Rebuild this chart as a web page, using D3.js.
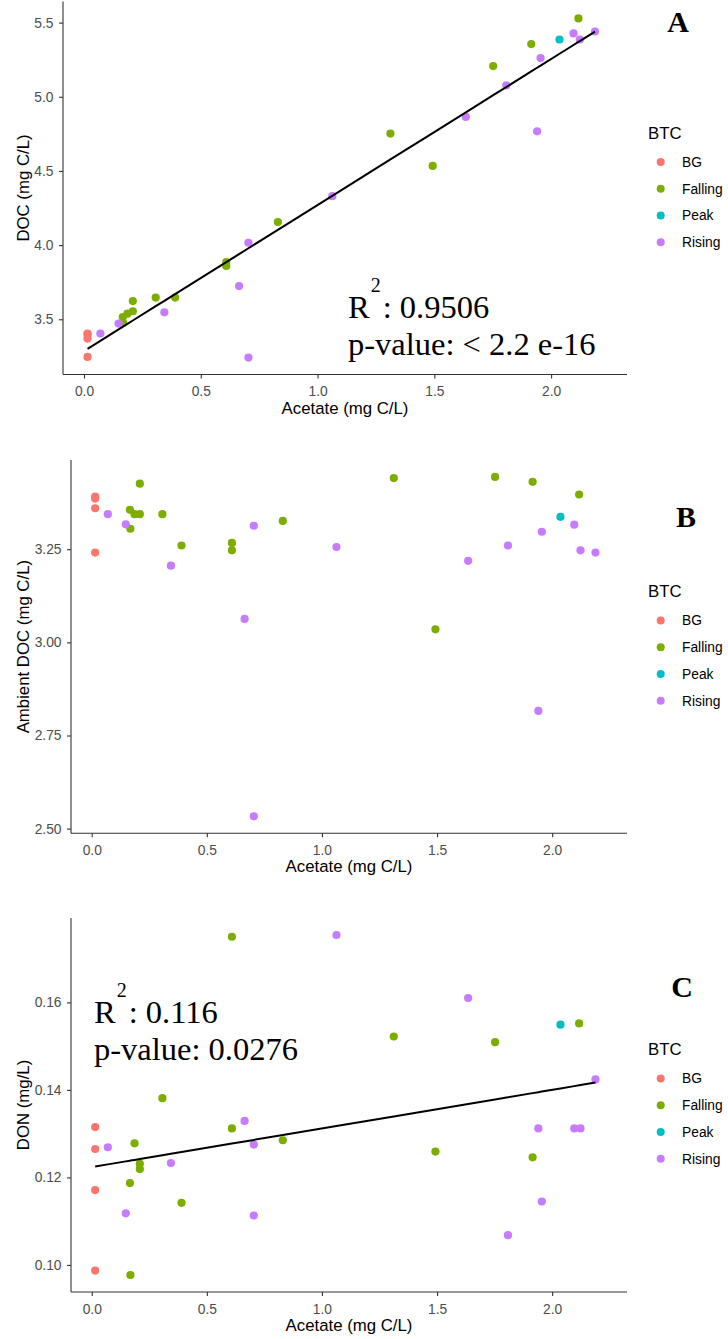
<!DOCTYPE html>
<html>
<head>
<meta charset="utf-8">
<script src="https://cdn.jsdelivr.net/npm/d3@7"></script>
<style>
  body { margin: 0; background: #fff; }
  .tick-label { font-family: "Liberation Sans", Arial, sans-serif; font-size: 13.8px; fill: #4d4d4d; }
  .axis-title { font-family: "Liberation Sans", Arial, sans-serif; font-size: 16.8px; fill: #000; }
  .legend-title { font-family: "Liberation Sans", Arial, sans-serif; font-size: 16.8px; fill: #000; }
  .legend-label { font-family: "Liberation Sans", Arial, sans-serif; font-size: 13.8px; fill: #000; }
  .panel-letter { font-family: "Liberation Serif", "Times New Roman", serif; font-size: 30px; font-weight: bold; fill: #000; }
  .stat-text { font-family: "Liberation Serif", "Times New Roman", serif; font-size: 32.5px; fill: #000; }
</style>
</head>
<body>
<div class="wrapper"></div>
<script>
// BTC categories and ggplot default hues
const btcGroups = ["BG", "Falling", "Peak", "Rising"]
const btcColors = ["#F8766D", "#7CAE00", "#00BFC4", "#C77CFF"]

// one entry per sample, same order in every array
const sampleBtc = [
    "BG", "BG", "BG", "BG",
    "Falling", "Falling", "Falling", "Falling", "Falling", "Falling", "Falling", "Falling",
    "Falling", "Falling", "Falling", "Falling", "Falling", "Falling", "Falling",
    "Peak",
    "Rising", "Rising", "Rising", "Rising", "Rising", "Rising", "Rising",
    "Rising", "Rising", "Rising", "Rising", "Rising", "Rising", "Rising"
]
const acetate = [
    0.015, 0.015, 0.015, 0.015,
    0.166, 0.168, 0.186, 0.209, 0.209, 0.307, 0.390, 0.609,
    0.609, 0.830, 1.312, 1.493, 1.752, 1.915, 2.117,
    2.036,
    0.070, 0.148, 0.344, 0.664, 0.704, 0.704, 1.063,
    1.635, 1.808, 1.940, 1.955, 2.096, 2.123, 2.188
]
const docValues = [
    3.404, 3.398, 3.370, 3.246,
    3.515, 3.475, 3.538, 3.623, 3.554, 3.646, 3.646, 3.886,
    3.859, 4.155, 4.752, 4.534, 5.207, 5.355, 5.528,
    5.386,
    3.404, 3.471, 3.547, 3.724, 4.016, 3.242, 4.330,
    4.864, 5.077, 4.767, 5.261, 5.427, 5.386, 5.440
]
const ambientDocValues = [
    3.391, 3.386, 3.360, 3.241,
    3.356, 3.305, 3.344, 3.426, 3.344, 3.344, 3.260, 3.267,
    3.247, 3.326, 3.441, 3.035, 3.444, 3.431, 3.397,
    3.337,
    3.344, 3.317, 3.206, 3.063, 3.313, 2.533, 3.256,
    3.219, 3.260, 2.816, 3.297, 3.316, 3.247, 3.241
]
const donValues = [
    0.1315, 0.1265, 0.1171, 0.0987,
    0.1187, 0.0977, 0.1278, 0.1231, 0.1219, 0.1381, 0.1142, 0.1312,
    0.1750, 0.1285, 0.1522, 0.1259, 0.1509, 0.1246, 0.1552,
    0.1549,
    0.1269, 0.1118, 0.1233, 0.1329, 0.1275, 0.1113, 0.1754,
    0.1610, 0.1068, 0.1312, 0.1145, 0.1312, 0.1312, 0.1424
]

const xDomain = [-0.09, 2.325]
const xTicks = [0, 0.5, 1, 1.5, 2]
const docTicks = [3.5, 4, 4.5, 5, 5.5]
const ambientTicks = [2.5, 2.75, 3, 3.25]
const donTicks = [0.10, 0.12, 0.14, 0.16]

const panels = [
    {
        values: docValues, yTicks: docTicks, yFormat: ".1f",
        yTitle: "DOC (mg C/L)", letter: "A",
        left: 63, right: 627, top: 1.5, bottom: 374.5,
        letterPos: [678, 32],
        fit: true, stats: ["0.9506", "p-value: < 2.2 e-16"], statsPos: [348, 318],
    },
    {
        values: ambientDocValues, yTicks: ambientTicks, yFormat: ".2f",
        yTitle: "Ambient DOC (mg C/L)", letter: "B",
        left: 71, right: 627, top: 460, bottom: 833.3,
        letterPos: [686, 527],
        fit: false,
    },
    {
        values: donValues, yTicks: donTicks, yFormat: ".2f",
        yTitle: "DON (mg/L)", letter: "C",
        left: 71, right: 627, top: 918, bottom: 1292,
        letterPos: [682, 997],
        fit: true, stats: ["0.116", "p-value: 0.0276"], statsPos: [94, 1023],
    },
]

const width = 728
const height = 1339

const wrapper = d3.select(".wrapper")
    .append("svg")
    .attr("width", width)
    .attr("height", height)

wrapper.append("rect")
    .attr("width", width)
    .attr("height", height)
    .attr("fill", "#fff")

const colorScale = d3.scaleOrdinal()
    .domain(btcGroups)
    .range(btcColors)

// ggplot-style 5% padding on a continuous range
function expand(extent) {
    const pad = (extent[1] - extent[0]) * 0.05
    return [extent[0] - pad, extent[1] + pad]
}

function linearFit(xs, ys) {
    const mx = d3.mean(xs)
    const my = d3.mean(ys)
    let sxy = 0
    let sxx = 0
    xs.forEach((x, i) => {
        sxy += (x - mx) * (ys[i] - my)
        sxx += (x - mx) * (x - mx)
    })
    const slope = sxy / sxx
    return {slope, intercept: my - slope * mx}
}

panels.forEach(panel => {
    const dataset = acetate.map((x, i) => ({
        x, y: panel.values[i], btc: sampleBtc[i],
    }))

    const xScale = d3.scaleLinear()
        .domain(xDomain)
        .range([panel.left, panel.right])

    const yScale = d3.scaleLinear()
        .domain(expand(d3.extent(panel.values)))
        .range([panel.bottom, panel.top])

    const bounds = wrapper.append("g")

    // axes
    const xAxis = bounds.append("g")
        .attr("transform", `translate(0, ${panel.bottom})`)
        .call(d3.axisBottom(xScale)
            .tickValues(xTicks)
            .tickFormat(d3.format(".1f"))
            .tickSizeInner(4)
            .tickSizeOuter(0)
            .tickPadding(8))
    const yAxis = bounds.append("g")
        .attr("transform", `translate(${panel.left}, 0)`)
        .call(d3.axisLeft(yScale)
            .tickValues(panel.yTicks)
            .tickFormat(d3.format(panel.yFormat))
            .tickSizeInner(4)
            .tickSizeOuter(0)
            .tickPadding(5.5))

    ;[xAxis, yAxis].forEach(axis => {
        axis.select(".domain")
            .attr("stroke", "#333")
            .attr("stroke-width", 1.1)
        axis.selectAll(".tick line")
            .attr("stroke", "#333")
            .attr("stroke-width", 1.1)
        axis.selectAll(".tick text")
            .attr("class", "tick-label")
            .attr("font-family", null)
            .attr("font-size", null)
            .attr("fill", null)
    })
    // the two axis lines meet at the lower-left corner
    xAxis.select(".domain").attr("d", `M${panel.left},0H${panel.right}`)
    yAxis.select(".domain").attr("d", `M0,${panel.bottom}V${panel.top}`)

    bounds.append("text")
        .attr("class", "axis-title")
        .attr("x", (panel.left + panel.right) / 2)
        .attr("y", panel.bottom + 39)
        .attr("text-anchor", "middle")
        .text("Acetate (mg C/L)")

    bounds.append("text")
        .attr("class", "axis-title")
        .attr("transform", `translate(29, ${(panel.top + panel.bottom) / 2}) rotate(-90)`)
        .attr("text-anchor", "middle")
        .text(panel.yTitle)

    // points
    bounds.selectAll(".dot")
        .data(dataset)
        .enter().append("circle")
        .attr("class", "dot")
        .attr("cx", d => xScale(d.x))
        .attr("cy", d => yScale(d.y))
        .attr("r", 4.1)
        .attr("fill", d => colorScale(d.btc))

    // fitted line
    if (panel.fit) {
        const {slope, intercept} = linearFit(acetate, panel.values)
        const lineData = d3.sort(acetate).map(x => ({x, y: intercept + slope * x}))
        bounds.append("path")
            .datum(lineData)
            .attr("fill", "none")
            .attr("stroke", "#000")
            .attr("stroke-width", 2)
            .attr("d", d3.line()
                .x(d => xScale(d.x))
                .y(d => yScale(d.y)))

        const [sx, sy] = panel.statsPos
        const statText = bounds.append("text")
            .attr("class", "stat-text")
            .attr("x", sx)
            .attr("y", sy)
        statText.append("tspan").text("R")
        statText.append("tspan")
            .attr("dy", -26)
            .attr("dx", 1)
            .style("font-size", "20px")
            .text("2")
        statText.append("tspan")
            .attr("dy", 26)
            .attr("dx", 2)
            .text(": " + panel.stats[0])
        bounds.append("text")
            .attr("class", "stat-text")
            .attr("x", sx)
            .attr("y", sy + 37)
            .text(panel.stats[1])
    }

    // panel letter
    bounds.append("text")
        .attr("class", "panel-letter")
        .attr("x", panel.letterPos[0])
        .attr("y", panel.letterPos[1])
        .attr("text-anchor", "middle")
        .text(panel.letter)

    // legend
    const legendGroup = bounds.append("g")
        .attr("transform", `translate(648, ${panel.top + 131})`)
    legendGroup.append("text")
        .attr("class", "legend-title")
        .attr("y", 6)
        .text("BTC")
    const legendItems = legendGroup.selectAll(".legend-item")
        .data(btcGroups)
        .enter().append("g")
        .attr("transform", (d, i) => `translate(0, ${29.6 + i * 26.7})`)
    legendItems.append("circle")
        .attr("cx", 12.7)
        .attr("r", 4)
        .attr("fill", d => colorScale(d))
    legendItems.append("text")
        .attr("class", "legend-label")
        .attr("x", 34)
        .attr("dy", "0.35em")
        .text(d => d)
})
</script>
</body>
</html>
